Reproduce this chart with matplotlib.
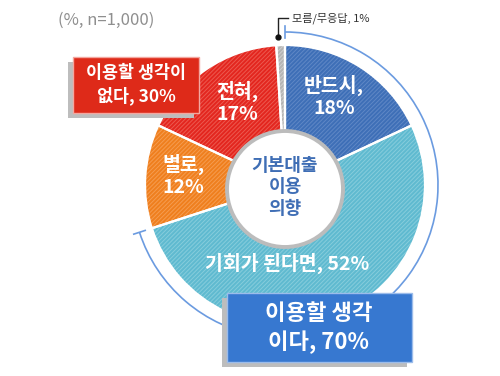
import numpy as np
import matplotlib.pyplot as plt
from matplotlib.patches import Circle, Arc, Rectangle

plt.rcParams['font.family'] = ['Noto Sans CJK KR', 'DejaVu Sans']
plt.rcParams['hatch.linewidth'] = 0.7

# data (clockwise from 12 o'clock)
names = ['반드시', '기회가 된다면', '별로', '전혀', '모름/무응답']
shares = [18, 52, 12, 17, 1]
colors = ['#3e6fb7', '#5fbad0', '#ef7f1e', '#e3261f', '#b4b4b4']
stripes = ['#5f88c6', '#86cddc', '#f59c50', '#ec5a50', '#cfcfcf']
group_names = ['이용할 생각\n이다', '이용할 생각이\n없다']
group_totals = [70, 30]   # as reported (rounded)
n_total = 1000

W, H = 500, 376
cx, cy, R = 285, H - 185, 140


def py(y):
    # pixel row from top -> data y
    return H - y


fig = plt.figure(figsize=(W / 100, H / 100), dpi=100)
ax = fig.add_axes([0, 0, 1, 1])

# fill, hatch, white separators
ax.pie(shares, colors=colors, startangle=90, counterclock=False,
       center=(cx, cy), radius=R, wedgeprops=dict(linewidth=0))
wedges, _ = ax.pie(shares, colors=['none'] * len(shares), startangle=90,
                   counterclock=False, center=(cx, cy), radius=R,
                   wedgeprops=dict(linewidth=0))
for w, c in zip(wedges, stripes):
    w.set_hatch('////////')
    w.set_edgecolor(c)
    w.set_facecolor('none')
ax.pie(shares, colors=['none'] * len(shares), startangle=90, counterclock=False,
       center=(cx, cy), radius=R,
       wedgeprops=dict(linewidth=1.6, edgecolor='white', facecolor='none'))

# centre circle
ax.add_patch(Circle((cx, py(189)), 58, facecolor='white', edgecolor='#bcbcbc', lw=2.8, zorder=3))
ax.text(cx, py(187), '기본대출\n이용\n의향', ha='center', va='center', color='#3f6eb5',
        fontsize=13, fontweight='bold', linespacing=1.15, zorder=4)

# slice labels
lab_kw = dict(ha='center', va='center', color='white', fontweight='bold', fontsize=14,
              linespacing=1.2, zorder=4)
ax.text(334, py(96), f'{names[0]},\n{shares[0]}%', **lab_kw)
ax.text(287, py(263), f'{names[1]}, {shares[1]}%', **lab_kw)
ax.text(183, py(175), f'{names[2]},\n{shares[2]}%', **lab_kw)
ax.text(237, py(102), f'{names[3]},\n{shares[3]}%', **lab_kw)

# bracket arc for "yes" group
t1 = 90 - 360 * (shares[0] + shares[1]) / sum(shares)
t2 = 90
ra = 153
ax.add_patch(Arc((cx, cy), 2 * ra, 2 * ra, theta1=t1, theta2=t2, color='#6b9be0', lw=1.2, zorder=2))
for t in (t1, t2):
    a = np.radians(t)
    ax.plot([cx + (ra - 6) * np.cos(a), cx + (ra + 6) * np.cos(a)],
            [cy + (ra - 6) * np.sin(a), cy + (ra + 6) * np.sin(a)], color='#6b9be0', lw=1.2, zorder=2)

# don't-know leader
ax.plot([278, 278, 288], [py(37), py(18), py(18)], color='#222222', lw=1, zorder=5)
ax.plot(278, py(37), 'o', color='#111111', ms=3.5, zorder=5)
ax.text(292, py(18), f'{names[4]}, {shares[4]}%', ha='left', va='center', fontsize=8,
        color='#333333', zorder=5)

# group boxes
ax.add_patch(Rectangle((222, py(367)), 185, 69, facecolor='#bdbdbd', edgecolor='none', zorder=6))
ax.add_patch(Rectangle((227, py(362)), 185, 69, facecolor='#3778d0', edgecolor='#9cbcea', lw=1, zorder=7))
ax.text(319, py(328), f'{group_names[0]}, {group_totals[0]}%', ha='center', va='center',
        color='white', fontsize=16, fontweight='bold', linespacing=1.3, zorder=8)

ax.add_patch(Rectangle((68, py(118)), 126, 56, facecolor='#bdbdbd', edgecolor='none', zorder=6))
ax.add_patch(Rectangle((73, py(113)), 126, 56, facecolor='#de2a19', edgecolor='#f3a79f', lw=1, zorder=7))
ax.text(136, py(85), f'{group_names[1]}, {group_totals[1]}%', ha='center', va='center',
        color='white', fontsize=12.5, fontweight='bold', linespacing=1.3, zorder=8)

ax.text(106, py(20), f'(%, n={n_total:,})', ha='center', va='center', color='#8f8f8f', fontsize=12)

ax.set_xlim(0, W)
ax.set_ylim(0, H)
ax.set_aspect('auto')
ax.axis('off')
fig.savefig('out.png', dpi=100)
